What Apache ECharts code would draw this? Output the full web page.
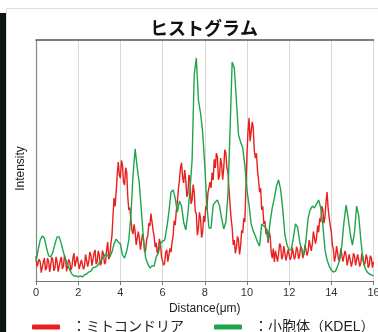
<!DOCTYPE html>
<html>
<head>
<meta charset="utf-8">
<script src="https://cdn.jsdelivr.net/npm/echarts@6/dist/echarts.min.js"></script>
<style>
html,body{margin:0;padding:0;background:#fff;}
#chart{width:378px;height:332px;}
</style>
</head>
<body>
<div id="chart"></div>
<script>
// Distance (µm) sampling steps
const mitoStep = 0.05;
const erStep = 0.1;
const xTicks = [0, 2, 4, 6, 8, 10, 12, 14, 16];
const seriesNames = ['ミトコンドリア', '小胞体（KDEL）'];

// Mitochondria intensity (red), every 0.05 µm
const mito = [
  10.4, 6.0, 5.4, 9.0, 7.9, 3.5, 4.1, 8.0, 9.5, 4.5, 5.4, 9.5, 7.9, 3.8, 4.6, 9.8, 8.7, 4.2, 5.4, 10.0,
  7.9, 3.9, 4.6, 8.5, 10.0, 5.0, 6.2, 10.6, 8.7, 4.0, 4.6, 9.0, 7.9, 4.5, 5.8, 9.5, 11.6, 6.0, 5.4, 10.2,
  9.5, 5.0, 4.6, 8.8, 9.1, 4.8, 6.2, 11.0, 10.4, 6.0, 7.9, 12.0, 10.8, 6.4, 7.1, 11.5, 12.9, 7.0, 7.9, 12.5,
  10.8, 6.5, 7.5, 12.6, 11.2, 7.0, 7.9, 13.0, 16.2, 9.0, 10.4, 15.5, 18.7, 27.0, 34.4, 31.0, 36.9, 44.0, 49.4, 44.0,
  42.7, 50.0, 48.1, 41.0, 39.8, 47.0, 45.2, 35.0, 29.5, 30.5, 25.3, 21.0, 19.5, 23.5, 20.3, 15.0, 15.8, 20.5, 17.8, 13.0,
  13.7, 19.5, 17.0, 12.0, 12.9, 17.5, 18.7, 24.0, 22.8, 28.0, 27.4, 21.0, 18.7, 14.0, 15.8, 11.5, 12.9, 17.5, 15.4, 10.0,
  10.4, 6.5, 7.5, 12.0, 12.9, 8.0, 8.7, 13.5, 12.0, 16.0, 18.7, 25.0, 23.2, 29.0, 32.8, 38.0, 41.9, 47.0, 49.0, 43.0,
  40.7, 46.0, 41.9, 35.0, 36.1, 44.0, 42.7, 32.0, 33.6, 40.0, 36.9, 29.0, 27.8, 19.0, 22.0, 28.5, 26.1, 18.0, 20.3, 27.0,
  24.5, 31.0, 29.5, 36.5, 35.7, 41.0, 38.6, 45.0, 41.9, 50.5, 46.9, 53.0, 51.5, 42.0, 43.6, 51.0, 48.5, 42.0, 46.9, 54.5,
  53.1, 47.0, 45.2, 38.0, 31.5, 26.0, 22.0, 15.0, 17.0, 11.5, 13.7, 18.5, 17.0, 11.0, 14.5, 21.0, 19.9, 26.0, 24.5, 38.0,
  52.3, 62.0, 67.6, 58.0, 61.8, 66.0, 63.5, 54.0, 51.0, 53.0, 46.1, 42.0, 36.9, 38.5, 29.5, 31.0, 23.7, 25.0, 19.5, 21.5,
  15.8, 20.5, 18.7, 12.0, 9.5, 13.5, 7.9, 12.5, 12.9, 8.0, 11.2, 15.5, 14.5, 9.0, 10.4, 14.5, 13.7, 8.5, 8.3, 13.0,
  12.9, 8.8, 10.0, 14.0, 13.3, 9.0, 10.4, 14.2, 12.9, 9.2, 10.8, 14.5, 13.3, 9.5, 11.2, 15.0, 14.5, 10.5, 12.4, 17.0,
  16.2, 12.5, 15.4, 20.5, 19.9, 15.5, 17.8, 23.0, 20.3, 26.0, 24.5, 31.0, 29.5, 24.0, 26.6, 33.0, 36.9, 30.0, 26.1, 23.0,
  20.3, 15.0, 12.9, 8.0, 10.4, 14.5, 13.7, 8.5, 9.5, 13.5, 12.9, 8.0, 7.9, 12.5, 10.8, 6.5, 6.2, 11.0, 10.4, 6.0,
  7.9, 11.5, 10.4, 6.5, 7.1, 11.0, 10.4, 6.0, 7.5, 11.5, 10.0, 6.5, 7.5, 11.0, 9.5, 5.5, 6.6, 10.5, 9.5, 5.5,
  7.9
];

// ER (KDEL) intensity (green), every 0.1 µm
const er = [
  7.9, 12.9, 17.0, 18.7, 17.8, 13.7, 10.4, 10.0, 12.0, 15.4,
  18.3, 18.3, 15.4, 12.0, 9.1, 6.6, 4.6, 2.9, 2.1, 2.1,
  1.7, 2.1, 1.7, 2.5, 2.9, 3.7, 4.1, 5.4, 5.8, 6.2,
  7.5, 8.7, 10.0, 11.2, 10.4, 10.0, 12.0, 15.4, 17.4, 16.2,
  15.4, 10.8, 9.5, 12.4, 17.0, 27.4, 44.0, 54.8, 46.9, 40.2,
  28.6, 17.0, 9.5, 7.1, 5.4, 6.2, 6.2, 10.0, 11.6, 15.4,
  16.6, 17.0, 22.0, 28.6, 36.9, 37.8, 34.4, 28.6, 33.2, 31.1,
  24.5, 21.2, 27.8, 37.8, 50.2, 85.5, 92.5, 75.1, 69.7, 61.8,
  48.1, 31.5, 22.0, 22.0, 31.5, 32.8, 33.6, 31.1, 26.1, 21.6,
  24.5, 35.7, 62.7, 90.9, 88.4, 75.1, 60.6, 57.7, 55.2, 48.1,
  37.8, 31.5, 23.7, 20.7, 18.7, 16.2, 14.5, 23.7, 22.8, 22.0,
  17.0, 24.5, 30.3, 34.4, 39.4, 41.9, 37.8, 29.5, 19.1, 14.9,
  12.9, 12.9, 17.8, 23.7, 22.4, 16.2, 12.9, 10.8, 17.0, 26.1,
  29.5, 31.1, 30.3, 32.0, 33.6, 30.3, 23.2, 12.9, 8.7, 6.2,
  4.6, 3.7, 4.1, 6.2, 8.7, 14.9, 24.5, 31.5, 26.1, 19.5,
  14.9, 20.3, 31.1, 27.0, 17.0, 8.7, 5.4, 3.7, 2.9, 2.5,
  2.1
];

const toPairs = (arr, step) => arr.map((v, i) => [+(i * step).toFixed(2), v]);

const FONT = "'Liberation Sans', 'Noto Sans CJK JP', sans-serif";
const chart = echarts.init(document.getElementById('chart'), null, {renderer: 'canvas'});
chart.setOption({
  animation: false,
  backgroundColor: '#fff',
  title: {
    text: 'ヒストグラム',
    left: 199, top: 14, textAlign: 'center',
    textStyle: {fontFamily: "'Noto Sans CJK JP', sans-serif", fontWeight: 'bold', fontSize: 18, color: '#111'}
  },
  legend: {
    left: 32, top: 320, width: 600, padding: 0,
    itemWidth: 28, itemHeight: 5, itemGap: 30,
    icon: 'roundRect',
    formatter: '：{name}',
    textStyle: {fontFamily: FONT, fontSize: 14, color: '#222', padding: [0, 0, 0, 7]},
    data: seriesNames
  },
  grid: {left: 36, right: 4.5, top: 40, bottom: 51, containLabel: false, outerBoundsMode: 'none'},
  xAxis: [{
    type: 'value', min: 0, max: 16, interval: 2,
    name: 'Distance(μm)', nameLocation: 'middle', nameGap: 22,
    nameTextStyle: {fontFamily: FONT, fontSize: 12, color: '#222'},
    axisLine: {lineStyle: {color: '#777', width: 1.2}},
    axisTick: {show: true, length: 4, lineStyle: {color: '#777'}},
    axisLabel: {fontFamily: FONT, fontSize: 11, color: '#333', margin: 6,
      formatter: v => xTicks.includes(v) ? String(v) : ''},
    splitLine: {show: true, lineStyle: {color: '#d9d9d9', width: 1}}
  }, {
    type: 'value', min: 0, max: 16, position: 'top',
    axisLine: {show: true, lineStyle: {color: '#555', width: 1.5}},
    axisTick: {show: false}, axisLabel: {show: false}, splitLine: {show: false}
  }],
  yAxis: {
    type: 'value', min: 0, max: 100,
    name: 'Intensity', nameLocation: 'middle', nameGap: 9, nameRotate: 90,
    nameTextStyle: {fontFamily: FONT, fontSize: 12, color: '#222', padding: [0, 16, 0, 0]},
    axisLine: {show: true, lineStyle: {color: '#888', width: 1.2}},
    axisTick: {show: false}, axisLabel: {show: false}, splitLine: {show: false}
  },
  graphic: [
    {type: 'rect', shape: {x: 0, y: 13, width: 6, height: 320}, style: {fill: '#0e140f'}, silent: true},
    {type: 'line', shape: {x1: 6, y1: 8.5, x2: 378, y2: 8.5}, style: {stroke: '#dddddd', lineWidth: 1}, silent: true},
    {type: 'line', shape: {x1: 6.5, y1: 8, x2: 6.5, y2: 332}, style: {stroke: '#dddddd', lineWidth: 1}, silent: true}
  ],
  series: [{
    name: seriesNames[0], type: 'line', data: toPairs(mito, mitoStep), showSymbol: false,
    color: '#e8201e', lineStyle: {width: 1.4, color: '#e8201e'}
  }, {
    name: seriesNames[1], type: 'line', data: toPairs(er, erStep), showSymbol: false,
    color: '#1ea54c', lineStyle: {width: 1.4, color: '#1ea54c'}
  }]
});
</script>
</body>
</html>
